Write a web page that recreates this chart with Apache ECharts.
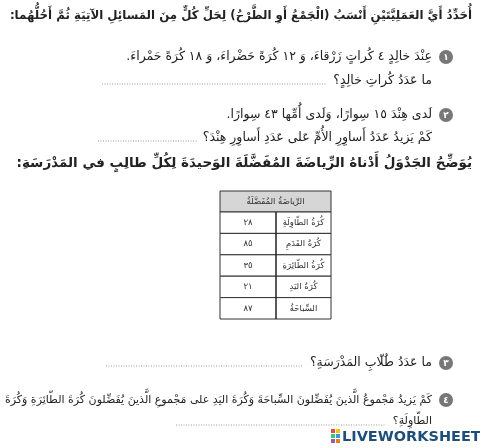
<!DOCTYPE html>
<html dir="rtl"><head><meta charset="utf-8">
<script src="https://cdn.jsdelivr.net/npm/echarts@6/dist/echarts.min.js"></script>
<style>html,body{margin:0;background:#fff}#c{width:480px;height:448px}</style></head>
<body><div id="c"></div>
<script>
const tableHeader = 'الرِّياضَةُ المُفَضَّلَةُ';
const sports = ['كُرَةُ الطّاوِلَةِ','كُرَةُ القَدَمِ','كُرَةُ الطّائِرَةِ','كُرَةُ اليَدِ','السِّباحَةُ'];
const counts = ['٢٨','٨٥','٣٥','٢١','٨٧'];
const F = 'DejaVu Sans';
const g = [];
function txt(x,y,s,size,bold,align,color){
  g.push({type:'text',x:x,y:y,style:{text:s,font:(bold?'bold ':'')+size+'px "'+F+'"',fill:color||'#222',align:align||'right',verticalAlign:'middle'}});
}
function dots(x1,x2,y){g.push({type:'line',shape:{x1:x1,y1:y,x2:x2,y2:y},style:{stroke:'#999',lineWidth:1,lineDash:[1,1.5]}});}
function num(x,y,n){g.push({type:'circle',shape:{cx:x,cy:y,r:7},style:{fill:'#777'}});txt(x,y+0.5,n,9,true,'center','#fff');}
txt(472,16,'أُحَدِّدُ أَيَّ العَمَلِيَّتَيْنِ أَنْسَبُ (الْجَمْعُ أَوِ الطَّرْحُ) لِحَلِّ كُلٍّ مِنَ المَسائِلِ الآتِيَةِ ثُمَّ أَحُلُّهُما:',11.8,true);
num(446,57,'١');
txt(432,57,'عِنْدَ خالِدٍ ٤ كُراتٍ زَرْقاءَ، وَ ١٢ كُرَةً خَضْراءَ، وَ ١٨ كُرَةً حَمْراءَ.',12.5);
txt(432,81,'ما عَدَدُ كُراتِ خالِدٍ؟',12.5); dots(102,326,84);
num(446,115,'٢');
txt(432,115,'لَدى هِنْدَ ١٥ سِوارًا، وَلَدى أُمِّها ٤٣ سِوارًا.',12.5);
txt(432,138,'كَمْ يَزيدُ عَدَدُ أَساوِرِ الأُمِّ عَلى عَدَدِ أَساوِرِ هِنْدَ؟',12.5); dots(98,198,141);
txt(472,163,'يُوَضِّحُ الجَدْوَلُ أَدْناهُ الرِّياضَةَ المُفَضَّلَةَ الوَحيدَةَ لِكُلِّ طالِبٍ في المَدْرَسَةِ:',13.5,true);
const L=220,R=331,M=276,T=191,H0=21,RH=21.4;
g.push({type:'rect',shape:{x:L,y:T,width:R-L,height:H0},style:{fill:'#d6d6d6',stroke:'#333',lineWidth:1}});
txt((L+R)/2,T+H0/2,tableHeader,8.5,false,'center','#333');
sports.forEach((s,i)=>{
  const y=T+H0+i*RH;
  g.push({type:'rect',shape:{x:L,y:y,width:R-L,height:RH},style:{fill:'#fff',stroke:'#333',lineWidth:1}});
  txt((M+R)/2,y+RH/2,s,8.5,false,'center','#333');
  txt((L+M)/2,y+RH/2,counts[i],8.5,false,'center','#333');
});
g.push({type:'line',shape:{x1:M,y1:T+H0,x2:M,y2:T+H0+5*RH},style:{stroke:'#222',lineWidth:1.5}});
num(446,363,'٣');
txt(432,363,'ما عَدَدُ طُلّابِ المَدْرَسَةِ؟',12.5); dots(106,302,366);
num(446,400,'٤');
txt(432,400,'كَمْ يَزيدُ مَجْموعُ الَّذينَ يُفَضِّلونَ السِّباحَةَ وَكُرَةَ اليَدِ على مَجْموعِ الَّذينَ يُفَضِّلونَ كُرَةَ الطّائِرَةِ وَكُرَةَ',11);
txt(432,421,'الطّاوِلَةِ؟',11); dots(176,386,425);
[['#e84c3d',331,431],['#f1c40f',336,431],['#2ecc71',331,436],['#3498db',336,436],['#9b59b6',331,441],['#e67e22',336,441]].forEach(c=>g.push({type:'rect',shape:{x:c[1],y:c[2]-2,width:4,height:4},style:{fill:c[0]}}));
g.push({type:'text',x:342,y:437,style:{text:'LIVEWORKSHEETS',font:'bold 14.5px "DejaVu Sans"',fill:'#1e4e79',align:'left',verticalAlign:'middle'}});
const chart=echarts.init(document.getElementById('c'));
chart.setOption({graphic:{elements:g}});
</script></body></html>
